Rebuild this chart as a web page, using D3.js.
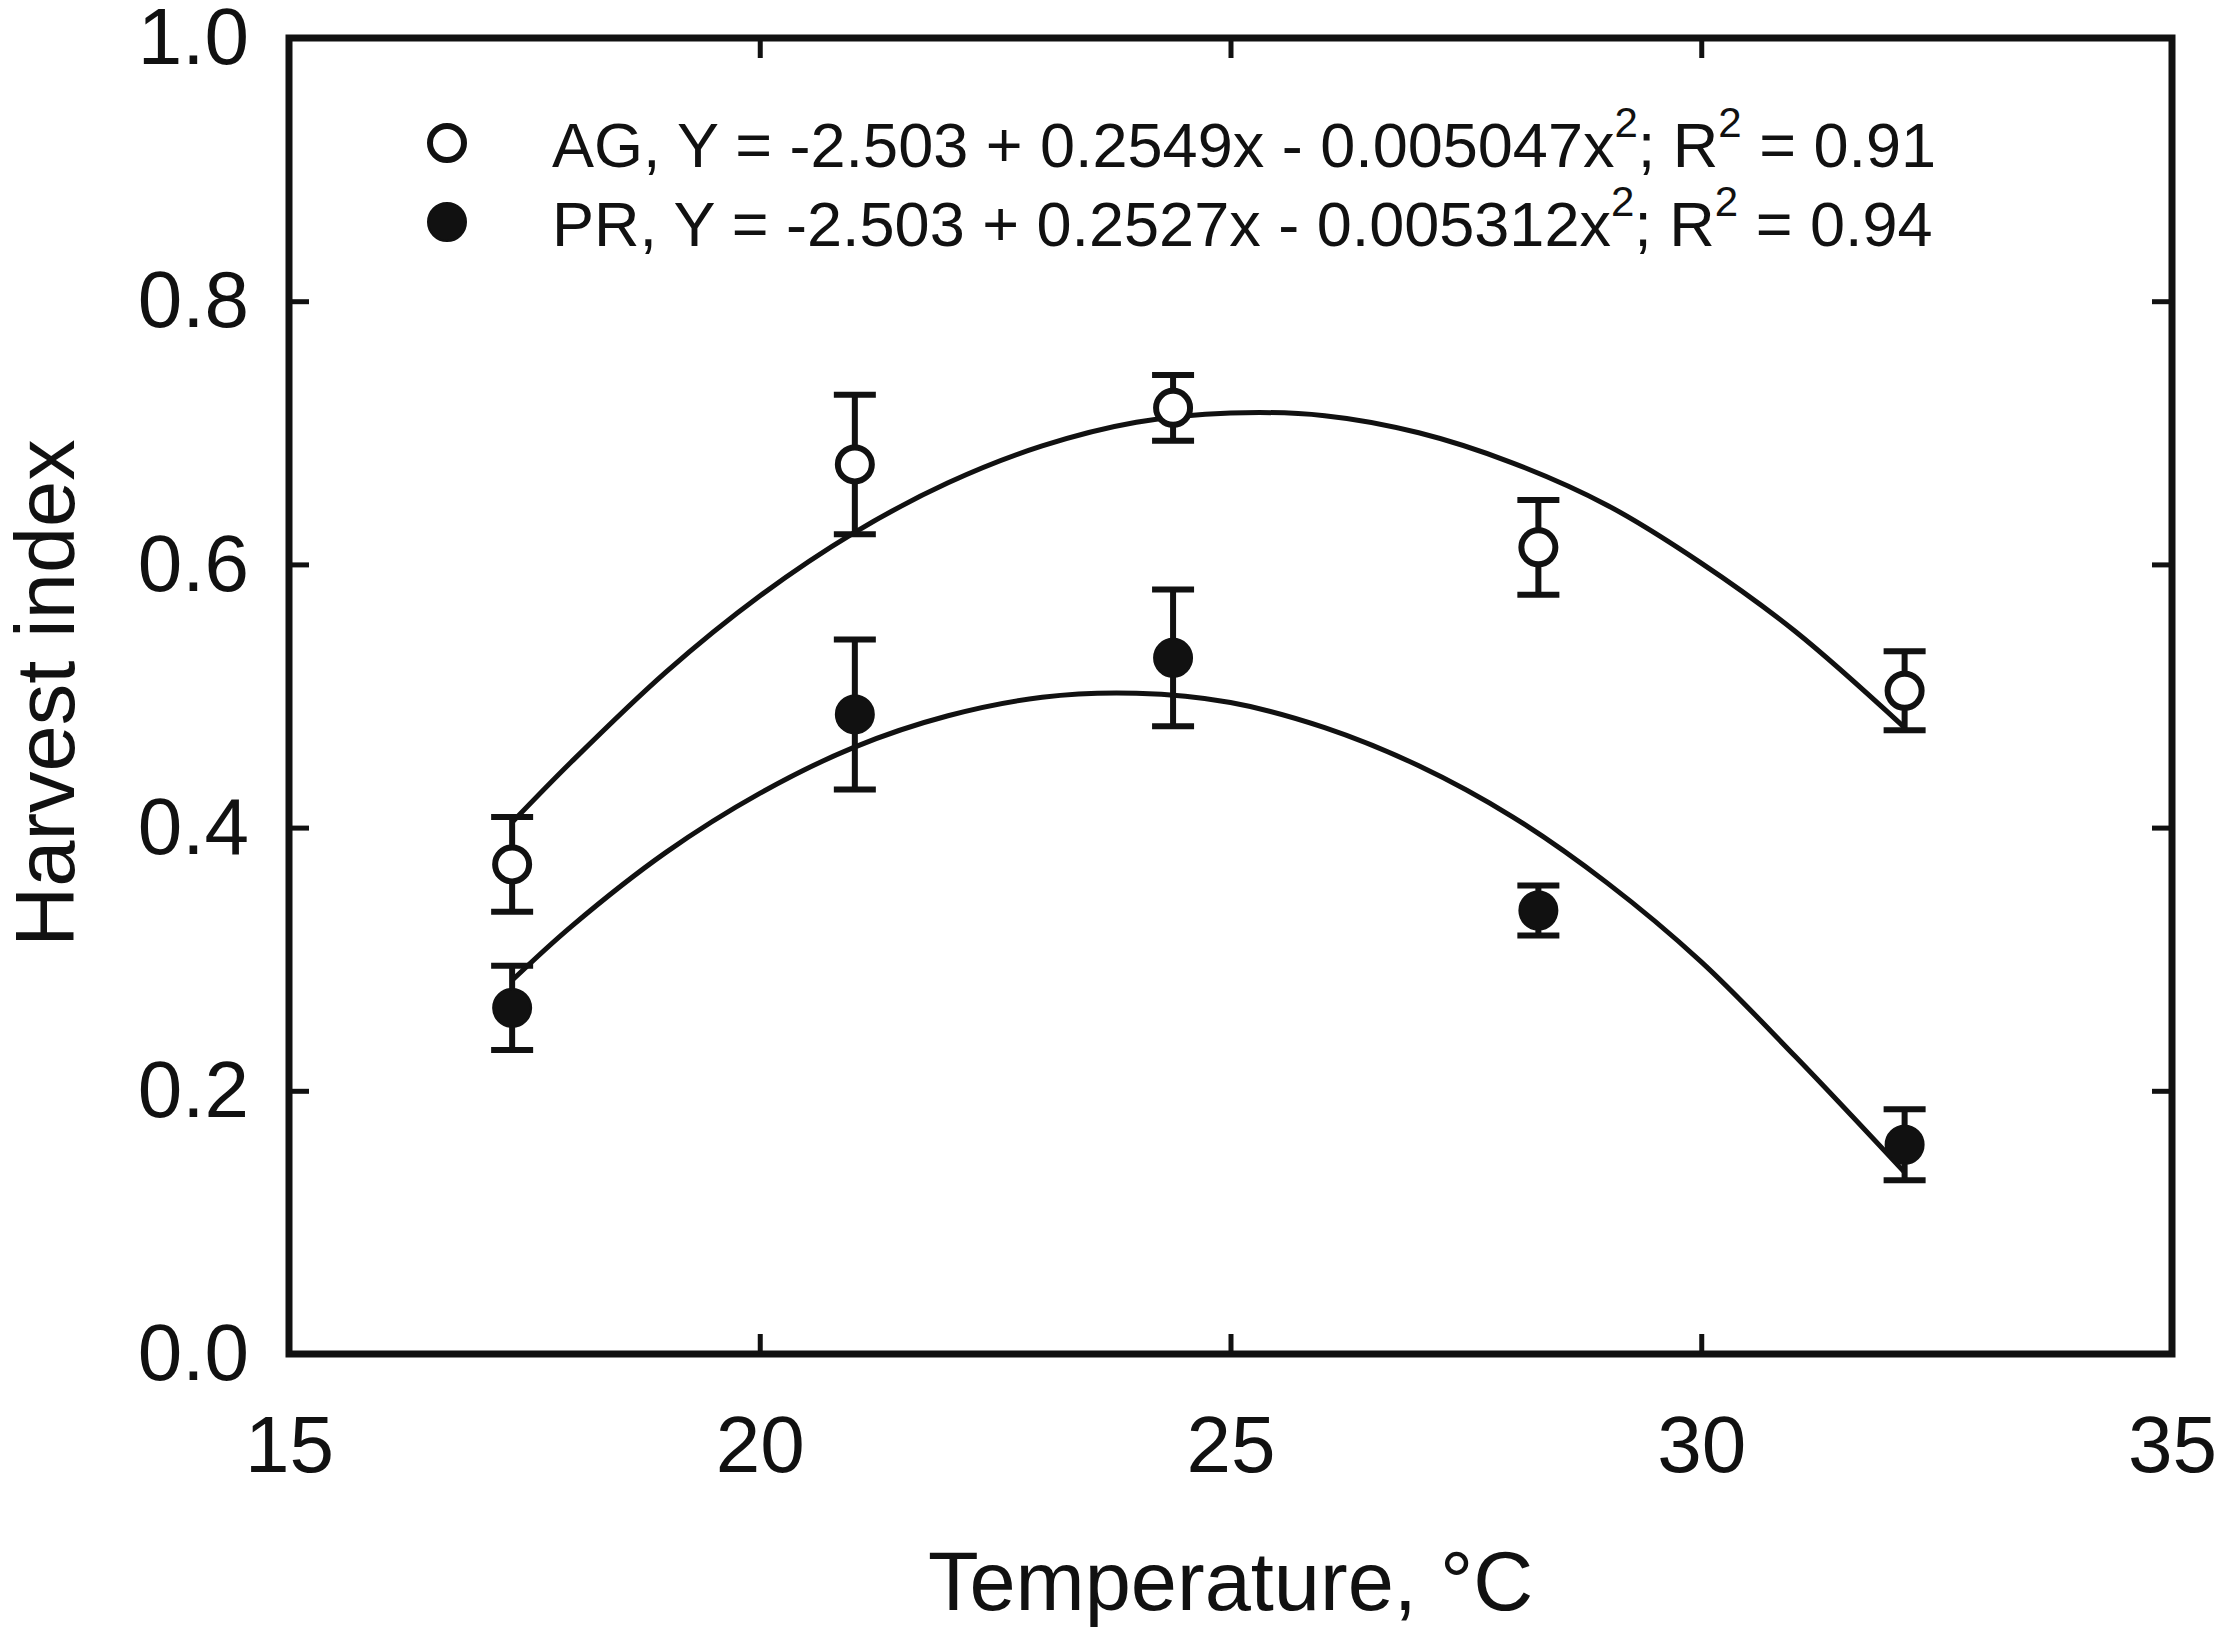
<!DOCTYPE html>
<html>
<head>
<meta charset="utf-8">
<script src="https://cdn.jsdelivr.net/npm/d3@7"></script>
<style>
  body { margin: 0; background: #fff; }
  svg { display: block; font-family: "Liberation Sans", Arial, sans-serif; }
</style>
</head>
<body>
<svg id="chart" width="2217" height="1631"></svg>
<script>
// measured points (temperature, mean harvest index, error)
const temps = [17.37, 21.01, 24.39, 28.27, 32.16];
const agMean = [0.372, 0.676, 0.719, 0.613, 0.504];
const agErr = [0.036, 0.053, 0.025, 0.036, 0.030];
const prMean = [0.263, 0.486, 0.529, 0.337, 0.159];
const prErr = [0.032, 0.057, 0.052, 0.019, 0.027];

// fitted curves
const fitTemps = [17.37, 18, 19, 20, 21, 22, 23, 24, 25, 26, 27, 28, 29, 30, 31, 32.16];
const agFit = [0.404, 0.450, 0.518, 0.576, 0.624, 0.662, 0.690, 0.708, 0.715, 0.713, 0.700, 0.677, 0.645, 0.601, 0.549, 0.476];
const prFit = [0.284, 0.325, 0.381, 0.426, 0.461, 0.485, 0.499, 0.502, 0.495, 0.476, 0.447, 0.408, 0.358, 0.298, 0.226, 0.138];

const xTicks = [15, 20, 25, 30, 35];
const yTicks = [0.0, 0.2, 0.4, 0.6, 0.8, 1.0];

const legendRows = [
  { name: "AG", b0: "-2.503", b1: "0.2549", b2: "0.005047", r2: "0.91", filled: false },
  { name: "PR", b0: "-2.503", b1: "0.2527", b2: "0.005312", r2: "0.94", filled: true }
];

let margin = { left: 289, right: 45, top: 38, bottom: 277 };
let width = 2217 - margin.left - margin.right;
let height = 1631 - margin.top - margin.bottom;

let svg = d3.select("#chart");
let g = svg.append("g").attr("transform", `translate(${margin.left},${margin.top})`);

let x = d3.scaleLinear().domain([15, 35]).range([0, width]);
let y = d3.scaleLinear().domain([0, 1]).range([height, 0]);

let tickLen = 20;

// axes with inward ticks on all four sides
let xAxis = g.append("g")
    .attr("transform", `translate(0,${height})`)
    .call(d3.axisBottom(x).tickValues(xTicks).tickSizeInner(-tickLen).tickSizeOuter(0).tickPadding(61)
        .tickFormat(d3.format("d")));
let xTop = g.append("g")
    .call(d3.axisTop(x).tickValues(xTicks.slice(1, -1)).tickSizeInner(-tickLen).tickSizeOuter(0).tickFormat(""));
let yAxis = g.append("g")
    .call(d3.axisLeft(y).tickValues(yTicks).tickSizeInner(-tickLen).tickSizeOuter(0).tickPadding(40)
        .tickFormat(d3.format(".1f")));
let yRight = g.append("g")
    .attr("transform", `translate(${width},0)`)
    .call(d3.axisRight(y).tickValues(yTicks.slice(1, -1)).tickSizeInner(-tickLen).tickSizeOuter(0).tickFormat(""));

[xAxis, xTop, yAxis, yRight].forEach(a => {
    a.select(".domain").remove();
    a.selectAll(".tick line").attr("stroke", "#111").attr("stroke-width", 5);
    a.selectAll(".tick text").attr("fill", "#111").attr("font-size", 80)
        .attr("font-family", "'Liberation Sans', Arial, sans-serif");
});

// frame
g.append("rect")
    .attr("x", 0).attr("y", 0)
    .attr("width", width).attr("height", height)
    .attr("fill", "none").attr("stroke", "#111").attr("stroke-width", 7);

// fitted curves
let line = d3.line()
    .x((d, i) => x(fitTemps[i]))
    .y(d => y(d))
    .curve(d3.curveCatmullRom);

[agFit, prFit].forEach(f => {
    g.append("path")
        .attr("d", line(f))
        .attr("fill", "none")
        .attr("stroke", "#111")
        .attr("stroke-width", 5);
});

// error bars and markers
let capW = 21;
function drawSeries(means, errs, filled) {
    let pts = temps.map((t, i) => ({ t: t, m: means[i], e: errs[i] }));
    let eb = g.append("g").selectAll("g").data(pts).enter().append("g");
    eb.append("line")
        .attr("x1", d => x(d.t)).attr("x2", d => x(d.t))
        .attr("y1", d => y(d.m - d.e)).attr("y2", d => y(d.m + d.e))
        .attr("stroke", "#111").attr("stroke-width", 6);
    eb.append("line")
        .attr("x1", d => x(d.t) - capW).attr("x2", d => x(d.t) + capW)
        .attr("y1", d => y(d.m + d.e)).attr("y2", d => y(d.m + d.e))
        .attr("stroke", "#111").attr("stroke-width", 6);
    eb.append("line")
        .attr("x1", d => x(d.t) - capW).attr("x2", d => x(d.t) + capW)
        .attr("y1", d => y(d.m - d.e)).attr("y2", d => y(d.m - d.e))
        .attr("stroke", "#111").attr("stroke-width", 6);

    g.append("g").selectAll("circle").data(pts).enter().append("circle")
        .attr("cx", d => x(d.t))
        .attr("cy", d => y(d.m))
        .attr("r", filled ? 19 : 17)
        .attr("fill", filled ? "#111" : "#fff")
        .attr("stroke", "#111")
        .attr("stroke-width", filled ? 2 : 6);
}
drawSeries(agMean, agErr, false);
drawSeries(prMean, prErr, true);

// legend
let leg = svg.append("g");
legendRows.forEach((r, i) => {
    let cy = 143 + i * 79;
    leg.append("circle")
        .attr("cx", 447).attr("cy", cy)
        .attr("r", r.filled ? 19 : 17)
        .attr("fill", r.filled ? "#111" : "#fff")
        .attr("stroke", "#111")
        .attr("stroke-width", r.filled ? 2 : 6);
    let t = leg.append("text")
        .attr("x", 552).attr("y", cy + 24)
        .attr("font-size", 63)
        .attr("fill", "#111");
    t.append("tspan").text(`${r.name}, Y = ${r.b0} + ${r.b1}x - ${r.b2}x`);
    t.append("tspan").attr("font-size", 42).attr("dy", -30).text("2");
    t.append("tspan").attr("dy", 30).text("; R");
    t.append("tspan").attr("font-size", 42).attr("dy", -30).text("2");
    t.append("tspan").attr("dy", 30).text(` = ${r.r2}`);
});

// axis titles
svg.append("text")
    .attr("x", margin.left + width / 2)
    .attr("y", 1610)
    .attr("text-anchor", "middle")
    .attr("font-size", 83)
    .attr("fill", "#111")
    .text("Temperature, °C");

svg.append("text")
    .attr("transform", `translate(74,693) rotate(-90)`)
    .attr("text-anchor", "middle")
    .attr("font-size", 83)
    .attr("fill", "#111")
    .text("Harvest index");
</script>
</body>
</html>
